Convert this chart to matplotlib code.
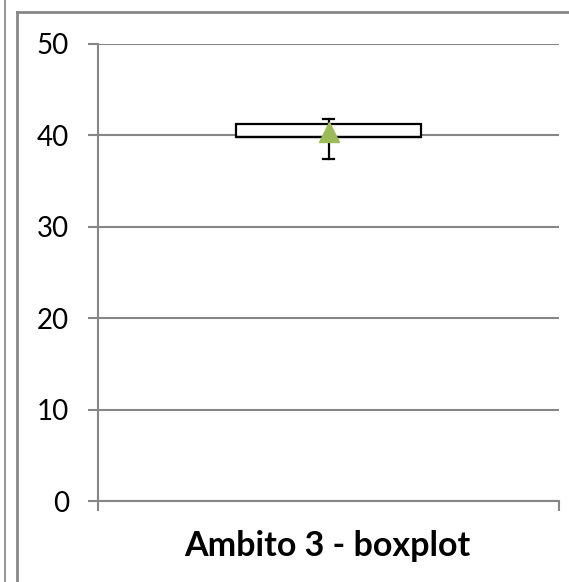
import matplotlib.pyplot as plt
from matplotlib.lines import Line2D

# box statistics
category = 'Ambito 3 - boxplot'
whisker_low = 37.4
q1 = 39.8
median = 39.8
q3 = 41.25
whisker_high = 41.8
mean = 40.4

y_ticks = [0, 10, 20, 30, 40, 50]

W, H = 569, 582
fig = plt.figure(figsize=(W / 100, H / 100), dpi=100)
ax = fig.add_axes([98 / W, 1 - 501 / H, 461 / W, 457 / H])

grey = '#868686'
stats = [dict(whislo=whisker_low, q1=q1, med=median, q3=q3, whishi=whisker_high,
              mean=mean, fliers=[], label='')]
ax.bxp(stats, positions=[1], widths=0.4, showmeans=True, patch_artist=True,
       boxprops=dict(facecolor='white', edgecolor='black', linewidth=1.6),
       whiskerprops=dict(color='black', linewidth=1.6),
       capprops=dict(color='black', linewidth=1.6),
       medianprops=dict(color='black', linewidth=1.6),
       meanprops=dict(marker='^', markerfacecolor='#9BBB59', markeredgecolor='#9BBB59',
                      markersize=14),
       capwidths=0.026, zorder=3)

ax.set_xlim(0.5, 1.5)
ax.set_ylim(0, 50)
ax.set_yticks(y_ticks)
ax.set_xticks([0.5, 1.5])
ax.set_xticklabels(['', ''])
ax.grid(axis='y', color=grey, linewidth=1.5, zorder=0)
ax.set_axisbelow(True)
for side in ['top', 'right']:
    ax.spines[side].set_visible(False)
for side in ['left', 'bottom']:
    ax.spines[side].set_color(grey)
    ax.spines[side].set_linewidth(1.5)
ax.tick_params(axis='both', color=grey, width=1.5, length=7)
ax.tick_params(axis='y', labelsize=20, pad=14)
for lab in ax.get_yticklabels():
    lab.set_fontfamily('Lato')

fig.text(327 / W, 1 - 546 / H, category, ha='center', va='center',
         fontsize=24.5, fontweight='bold', family='Lato')

# chart area borders
fig.add_artist(Line2D([5 / W, 5 / W], [0, 1], color='#999999', linewidth=1.5))
fig.add_artist(Line2D([17 / W, 17 / W], [0, 1 - 12 / H], color='#888888', linewidth=2))
fig.add_artist(Line2D([17 / W, 1], [1 - 12 / H, 1 - 12 / H], color='#888888', linewidth=2))

fig.savefig('out.png', dpi=100)
